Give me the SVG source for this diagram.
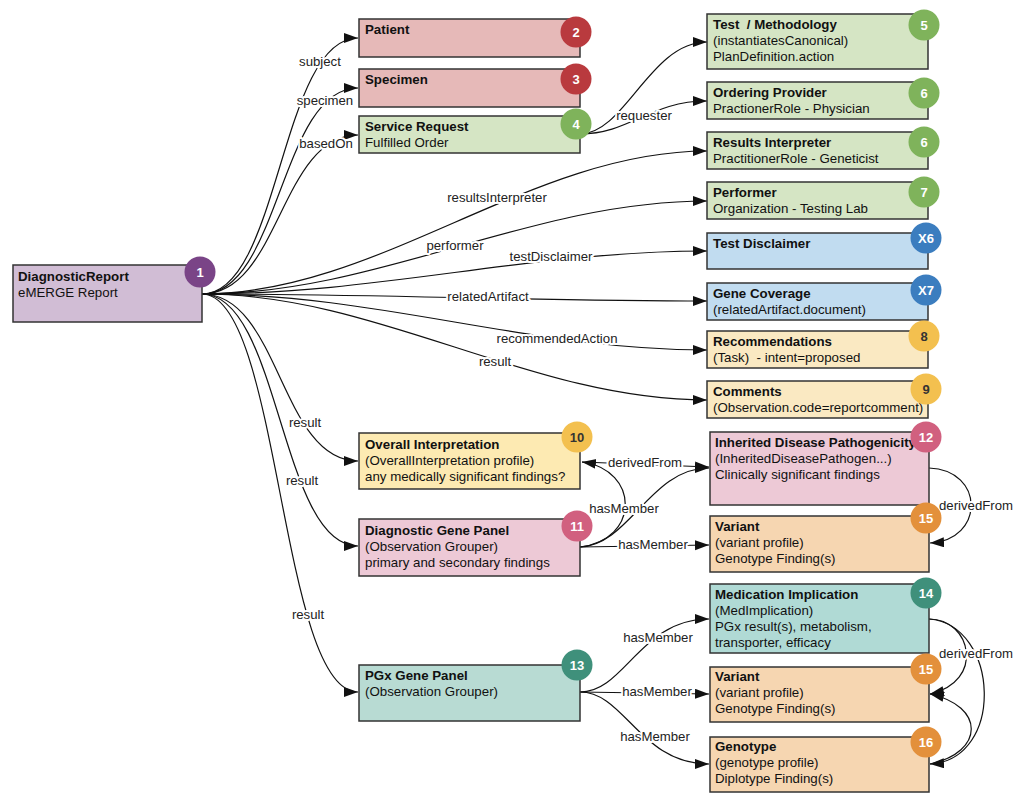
<svg xmlns="http://www.w3.org/2000/svg" width="1022" height="802" viewBox="0 0 1022 802">
<defs>
<marker id="arr" markerUnits="userSpaceOnUse" markerWidth="15" markerHeight="11" refX="14" refY="5" orient="auto">
<path d="M0,0 L14,5 L0,10 z" fill="#111"/>
</marker>
<style>
.box{stroke:#333;stroke-width:1.5}
.t{font-family:"Liberation Sans",Arial,sans-serif;font-size:13.3px;fill:#111}
.b{font-weight:bold}
.c{fill:none;stroke:#111;stroke-width:1.2;marker-end:url(#arr)}
.cn{fill:none;stroke:#111;stroke-width:1.2}
.lbl{font-family:"Liberation Sans",Arial,sans-serif;font-size:13.2px;fill:#222;text-anchor:middle;stroke:#fff;stroke-width:4px;paint-order:stroke;stroke-linejoin:round}
.bt{font-family:"Liberation Sans",Arial,sans-serif;font-size:13px;font-weight:bold;fill:#fff;text-anchor:middle}
.bd{fill:#333}
.purple{fill:#d1bdd5}.red{fill:#e6b9b8}.green{fill:#d5e5c4}.blue{fill:#c1dcf0}.yel{fill:#fae9c2}.yel2{fill:#fdeab2}.pink{fill:#edc9d6}.orange{fill:#f6d6b1}.teal{fill:#b8dbd3}.teal2{fill:#b0dad5}
.bpurple{fill:#7a4487}.bred{fill:#b93a3e}.bgreen{fill:#7fb35b}.bblue{fill:#3b7dbf}.byel{fill:#f3c04f}.bpink{fill:#d1607f}.borange{fill:#e3903b}.bteal{fill:#3f907b}
</style>
</defs>

<g id="connectors">
<path class="c" d="M202,294 C280,294 280,38 358,38"/>
<path class="c" d="M202,294 C280,294 280,88 358,88"/>
<path class="c" d="M202,294 C280,294 280,135 358,135"/>
<path class="c" d="M202,294 C280,294 280,461 358,461"/>
<path class="c" d="M202,294 C280,294 280,546 358,546"/>
<path class="c" d="M202,294 C280,294 280,692 358,692"/>
<path class="c" d="M202,294 C379,294 530,151 707,151"/>
<path class="c" d="M202,294 C379,294 530,201 707,201"/>
<path class="c" d="M202,294 C379,294 530,251 707,251"/>
<path class="c" d="M202,294 C379,294 530,301 707,301"/>
<path class="c" d="M202,294 C379,294 530,350 707,350"/>
<path class="c" d="M202,294 C379,294 530,400 707,400"/>
<path class="c" d="M580,134 C625,134 650,42 707,42"/>
<path class="c" d="M580,134 C630,134 650,101 707,101"/>
<path class="c" d="M580,547 C640,540 640,470 582,462"/>
<path class="c" d="M582,462 L709,467"/>
<path class="c" d="M580,547 C630,545 650,468 709,468"/>
<path class="c" d="M580,547 L709,545"/>
<path class="c" d="M929,468 C985,470 985,540 930,543"/>
<path class="c" d="M580,692 C625,692 640,619 709,619"/>
<path class="c" d="M580,692 L709,694"/>
<path class="c" d="M580,692 C625,692 640,764 709,764"/>
<path class="c" d="M929,619 C972,619 985,682 930,694"/>
<path class="c" d="M929,619 C1000,625 1005,760 930,764"/>
<path class="c" d="M930,764 C985,752 985,706 930,694"/>
<text class="lbl" x="320" y="66">subject</text>
<text class="lbl" x="325" y="105">specimen</text>
<text class="lbl" x="326" y="148">basedOn</text>
<text class="lbl" x="644" y="120">requester</text>
<text class="lbl" x="497" y="202">resultsInterpreter</text>
<text class="lbl" x="455" y="250">performer</text>
<text class="lbl" x="551" y="261">testDisclaimer</text>
<text class="lbl" x="488" y="301">relatedArtifact</text>
<text class="lbl" x="557" y="343">recommendedAction</text>
<text class="lbl" x="495" y="366">result</text>
<text class="lbl" x="305" y="427">result</text>
<text class="lbl" x="302" y="485">result</text>
<text class="lbl" x="308" y="619">result</text>
<text class="lbl" x="645" y="467">derivedFrom</text>
<text class="lbl" x="624" y="513">hasMember</text>
<text class="lbl" x="653" y="549">hasMember</text>
<text class="lbl" x="976" y="510">derivedFrom</text>
<text class="lbl" x="658" y="642">hasMember</text>
<text class="lbl" x="657" y="696">hasMember</text>
<text class="lbl" x="655" y="741">hasMember</text>
<text class="lbl" x="976" y="658">derivedFrom</text>
</g>

<g id="n1">
<rect class="box purple" x="13" y="265" width="189" height="57"/>
<text class="t b" x="18" y="281">DiagnosticReport</text>
<text class="t" x="18" y="297">eMERGE Report</text>
<circle class="bpurple" cx="200" cy="272" r="15.5"/>
<text class="bt" x="200" y="276.5">1</text>
</g>

<g id="n2">
<rect class="box red" x="359" y="19" width="221" height="38"/>
<text class="t b" x="365" y="34">Patient</text>
<circle class="bred" cx="576" cy="32" r="15.5"/>
<text class="bt" x="576" y="36.5">2</text>
</g>

<g id="n3">
<rect class="box red" x="359" y="69" width="221" height="38"/>
<text class="t b" x="365" y="84">Specimen</text>
<circle class="bred" cx="576" cy="79" r="15.5"/>
<text class="bt" x="576" y="83.5">3</text>
</g>

<g id="n4">
<rect class="box green" x="359" y="116" width="221" height="37"/>
<text class="t b" x="365" y="131">Service Request</text>
<text class="t" x="365" y="147">Fulfilled Order</text>
<circle class="bgreen" cx="576" cy="124" r="15.5"/>
<text class="bt" x="576" y="128.5">4</text>
</g>

<g id="n5">
<rect class="box green" x="707" y="14" width="221" height="55"/>
<text class="t b" x="713" y="29">Test&#160; / Methodology</text>
<text class="t" x="713" y="45">(instantiatesCanonical)</text>
<text class="t" x="713" y="61">PlanDefinition.action</text>
<circle class="bgreen" cx="924" cy="25" r="15.5"/>
<text class="bt" x="924" y="29.5">5</text>
</g>

<g id="n6a">
<rect class="box green" x="707" y="82" width="221" height="37"/>
<text class="t b" x="713" y="97">Ordering Provider</text>
<text class="t" x="713" y="113">PractionerRole - Physician</text>
<circle class="bgreen" cx="924" cy="93" r="15.5"/>
<text class="bt" x="924" y="97.5">6</text>
</g>

<g id="n6b">
<rect class="box green" x="707" y="132" width="221" height="37"/>
<text class="t b" x="713" y="147">Results Interpreter</text>
<text class="t" x="713" y="163">PractitionerRole - Geneticist</text>
<circle class="bgreen" cx="924" cy="142" r="15.5"/>
<text class="bt" x="924" y="146.5">6</text>
</g>

<g id="n7">
<rect class="box green" x="707" y="182" width="221" height="37"/>
<text class="t b" x="713" y="197">Performer</text>
<text class="t" x="713" y="213">Organization - Testing Lab</text>
<circle class="bgreen" cx="924" cy="192" r="15.5"/>
<text class="bt" x="924" y="196.5">7</text>
</g>

<g id="nx6">
<rect class="box blue" x="707" y="233" width="221" height="36"/>
<text class="t b" x="713" y="248">Test Disclaimer</text>
<circle class="bblue" cx="926" cy="238" r="15.5"/>
<text class="bt" x="926" y="242.5">X6</text>
</g>

<g id="nx7">
<rect class="box blue" x="707" y="283" width="221" height="37"/>
<text class="t b" x="713" y="298">Gene Coverage</text>
<text class="t" x="713" y="314">(relatedArtifact.document)</text>
<circle class="bblue" cx="926" cy="290" r="15.5"/>
<text class="bt" x="926" y="294.5">X7</text>
</g>

<g id="n8">
<rect class="box yel" x="707" y="331" width="221" height="37"/>
<text class="t b" x="713" y="346">Recommendations</text>
<text class="t" x="713" y="362">(Task)&#160; - intent=proposed</text>
<circle class="byel" cx="924" cy="336" r="15.5"/>
<text class="bt bd" x="924" y="340.5">8</text>
</g>

<g id="n9">
<rect class="box yel" x="707" y="381" width="221" height="37"/>
<text class="t b" x="713" y="396">Comments</text>
<text class="t" x="713" y="412">(Observation.code=reportcomment)</text>
<circle class="byel" cx="926" cy="389" r="15.5"/>
<text class="bt bd" x="926" y="393.5">9</text>
</g>

<g id="n10">
<rect class="box yel2" x="359" y="433" width="221" height="56"/>
<text class="t b" x="365" y="449">Overall Interpretation</text>
<text class="t" x="365" y="465">(OverallInterpretation profile)</text>
<text class="t" x="365" y="481">any medically significant findings?</text>
<circle class="byel" cx="577" cy="437" r="15.5"/>
<text class="bt bd" x="577" y="441.5">10</text>
</g>

<g id="n11">
<rect class="box pink" x="359" y="519" width="221" height="57"/>
<text class="t b" x="365" y="535">Diagnostic Gene Panel</text>
<text class="t" x="365" y="551">(Observation Grouper)</text>
<text class="t" x="365" y="567">primary and secondary findings</text>
<circle class="bpink" cx="577" cy="526" r="15.5"/>
<text class="bt" x="577" y="530.5">11</text>
</g>

<g id="n12">
<rect class="box pink" x="710" y="432" width="219" height="73"/>
<text class="t b" x="715" y="447">Inherited Disease Pathogenicity</text>
<text class="t" x="715" y="463">(InheritedDiseasePathogen...)</text>
<text class="t" x="715" y="479">Clinically significant findings</text>
<circle class="bpink" cx="926" cy="437" r="15.5"/>
<text class="bt" x="926" y="441.5">12</text>
</g>

<g id="n15a">
<rect class="box orange" x="710" y="516" width="219" height="56"/>
<text class="t b" x="715" y="531">Variant</text>
<text class="t" x="715" y="547">(variant profile)</text>
<text class="t" x="715" y="563">Genotype Finding(s)</text>
<circle class="borange" cx="926" cy="518" r="15.5"/>
<text class="bt" x="926" y="522.5">15</text>
</g>

<g id="n13">
<rect class="box teal" x="359" y="665" width="221" height="56"/>
<text class="t b" x="365" y="680">PGx Gene Panel</text>
<text class="t" x="365" y="696">(Observation Grouper)</text>
<circle class="bteal" cx="577" cy="665" r="15.5"/>
<text class="bt" x="577" y="669.5">13</text>
</g>

<g id="n14">
<rect class="box teal2" x="710" y="584" width="219" height="69"/>
<text class="t b" x="715" y="599">Medication Implication</text>
<text class="t" x="715" y="615">(MedImplication)</text>
<text class="t" x="715" y="631">PGx result(s), metabolism,</text>
<text class="t" x="715" y="647">transporter, efficacy</text>
<circle class="bteal" cx="926" cy="593" r="15.5"/>
<text class="bt" x="926" y="597.5">14</text>
</g>

<g id="n15b">
<rect class="box orange" x="710" y="667" width="219" height="55"/>
<text class="t b" x="715" y="681">Variant</text>
<text class="t" x="715" y="697">(variant profile)</text>
<text class="t" x="715" y="713">Genotype Finding(s)</text>
<circle class="borange" cx="926" cy="669" r="15.5"/>
<text class="bt" x="926" y="673.5">15</text>
</g>

<g id="n16">
<rect class="box orange" x="710" y="737" width="219" height="55"/>
<text class="t b" x="715" y="751">Genotype</text>
<text class="t" x="715" y="767">(genotype profile)</text>
<text class="t" x="715" y="783">Diplotype Finding(s)</text>
<circle class="borange" cx="926" cy="742" r="15.5"/>
<text class="bt" x="926" y="746.5">16</text>
</g>
</svg>
